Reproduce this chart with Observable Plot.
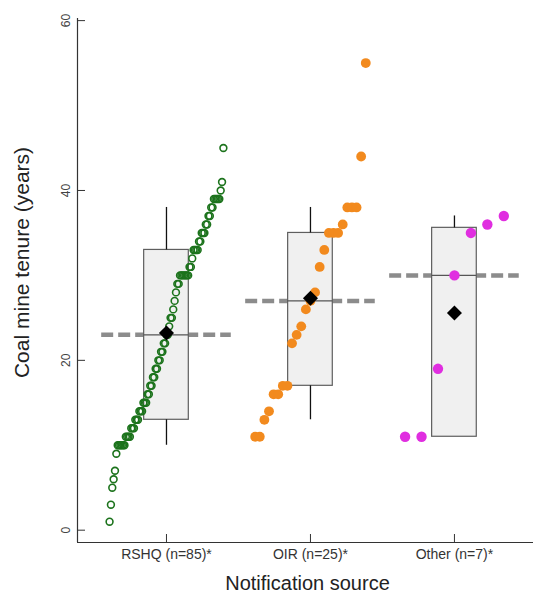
<!DOCTYPE html>
<html>
<head>
<meta charset="utf-8">
<script src="https://cdn.jsdelivr.net/npm/d3@7"></script>
<script src="https://cdn.jsdelivr.net/npm/@observablehq/plot@0.6"></script>
<style>
  html, body { margin: 0; padding: 0; background: #fff; }
</style>
</head>
<body>
<div id="chart"></div>
<script>
// Notification sources and their axis labels
const sources = ["RSHQ", "OIR", "Other"];
const tickLabels = ["RSHQ (n=85)*", "OIR (n=25)*", "Other (n=7)*"];
const yTicks = [0, 20, 40, 60];

// Coal mine tenure (years) of each notified case, by source
const rshq = [
  1, 3, 5, 6, 7, 9,
  10, 10, 10, 10, 10, 10,
  11, 11, 11, 11, 12, 12, 12, 13, 13, 13,
  14, 14, 14, 15, 15, 15, 16, 16, 17, 17, 18, 18, 19, 19, 20, 20, 21, 21,
  22, 22, 23, 23, 24, 25, 25, 26, 27, 28, 29, 29,
  30, 30, 30, 30, 30, 30, 30, 31, 31, 32, 33, 33, 33, 33, 34, 34,
  35, 35, 35, 36, 36, 37, 37, 38, 38, 39, 39, 39, 39, 39, 40, 41, 45
];
const oir = [11, 11, 13, 14, 16, 16, 17, 17, 22, 23, 24, 26, 27, 28, 31, 33, 35, 35, 35, 36, 38, 38, 38, 44, 55];
const other = [11, 11, 19, 30, 35, 36, 37];

// Box summaries per source
const q1 = [13, 17, 11];
const median = [23, 27, 30];
const q3 = [33, 35, 35.6];
const whiskerLow = [10, 13, 11];
const whiskerHigh = [38, 38, 37];

const pointColors = ["#1c731c", "#f28a1e", "#e02ee0"];

const groups = [rshq, oir, other];

// Each source's points are spread sideways in order of their value
const spread = 0.8;
const points = groups.flatMap((vals, g) =>
  vals.slice().sort((a, b) => a - b).map((v, i, arr) => ({
    group: g,
    x: g + 1 + ((i + 0.5) / arr.length - 0.5) * spread,
    value: v
  }))
);

const boxes = sources.map((s, g) => ({
  pos: g + 1,
  q1: q1[g], median: median[g], q3: q3[g],
  lo: whiskerLow[g], hi: whiskerHigh[g],
  mean: d3.mean(groups[g])
}));

const halfBox = 0.155;
const halfDash = 0.45;

const xDomain = [0.382, 3.549];
const yDomain = [-1.45, 60.25];

// Square diamond for the group means
const diamond = {
  draw(ctx, size) {
    const s = Math.sqrt(size / 2);
    ctx.moveTo(0, -s); ctx.lineTo(s, 0); ctx.lineTo(0, s); ctx.lineTo(-s, 0); ctx.closePath();
  }
};

const chart = Plot.plot({
  width: 533,
  height: 602,
  marginTop: 18,
  marginLeft: 77,
  marginRight: 0,
  marginBottom: 60,
  style: { fontFamily: "'Liberation Sans', Arial, sans-serif", background: "#fff" },
  x: { domain: xDomain, axis: null },
  y: { domain: yDomain, axis: null },
  marks: [
    // Dashed median reference across each group
    Plot.ruleY(boxes, {
      y: "median", x1: d => d.pos - halfDash, x2: d => d.pos + halfDash,
      stroke: "#8c8c8c", strokeWidth: 4.5, strokeDasharray: "12,5"
    }),
    // Boxes
    Plot.rect(boxes, {
      x1: d => d.pos - halfBox, x2: d => d.pos + halfBox, y1: "q1", y2: "q3",
      fill: "#f0f0f0", stroke: "#5e5e5e", strokeWidth: 1.2
    }),
    Plot.ruleY(boxes, {
      y: "median", x1: d => d.pos - halfBox, x2: d => d.pos + halfBox,
      stroke: "#555", strokeWidth: 1.2
    }),
    // Whiskers
    Plot.ruleX(boxes.filter(d => d.hi > d.q3), { x: "pos", y1: "q3", y2: "hi", stroke: "#111", strokeWidth: 1.3 }),
    Plot.ruleX(boxes.filter(d => d.lo < d.q1), { x: "pos", y1: "lo", y2: "q1", stroke: "#111", strokeWidth: 1.3 }),
    // Individual cases
    Plot.dot(points.filter(d => d.group === 0), {
      x: "x", y: "value", r: 3.4, fill: "none", stroke: pointColors[0], strokeWidth: 1.6
    }),
    Plot.dot(points.filter(d => d.group === 1), {
      x: "x", y: "value", r: 4.9, fill: pointColors[1], stroke: "none"
    }),
    Plot.dot(points.filter(d => d.group === 2), {
      x: "x", y: "value", r: 5.2, fill: pointColors[2], stroke: "none"
    }),
    // Group means
    Plot.dot(boxes, { x: "pos", y: "mean", r: 6, symbol: diamond, fill: "#000", stroke: "none" }),
    // L-shaped frame
    Plot.ruleX([xDomain[0]], { stroke: "#333", strokeWidth: 1.2 }),
    Plot.ruleY([yDomain[0]], { stroke: "#333", strokeWidth: 1.2 }),
    // Inward tick marks
    Plot.ruleY(yTicks, { y: d => d, x1: xDomain[0], x2: xDomain[0], insetRight: -8, stroke: "#333", strokeWidth: 1 }),
    Plot.ruleX([1, 2, 3], { x: d => d, y1: yDomain[0], y2: yDomain[0], insetBottom: 8, stroke: "#333", strokeWidth: 1 }),
    // Tick labels
    Plot.text(yTicks, {
      y: d => d, frameAnchor: "left", text: d => String(d), rotate: -90, dx: -11,
      textAnchor: "middle", lineAnchor: "middle", fontSize: 12, fill: "#444"
    }),
    Plot.text([1, 2, 3], {
      x: d => d, frameAnchor: "bottom", text: d => tickLabels[d - 1], dy: 12,
      textAnchor: "middle", lineAnchor: "middle", fontSize: 14, fill: "#333"
    }),
    // Axis titles
    Plot.text(["Notification source"], {
      frameAnchor: "bottom", text: d => d, dy: 41, dx: 2,
      textAnchor: "middle", lineAnchor: "middle", fontSize: 20, fill: "#222"
    }),
    Plot.text(["Coal mine tenure (years)"], {
      frameAnchor: "left", text: d => d, dx: -55, dy: -18, rotate: -90,
      textAnchor: "middle", lineAnchor: "middle", fontSize: 21, fill: "#222"
    })
  ]
});

document.getElementById("chart").append(chart);
</script>
</body>
</html>
